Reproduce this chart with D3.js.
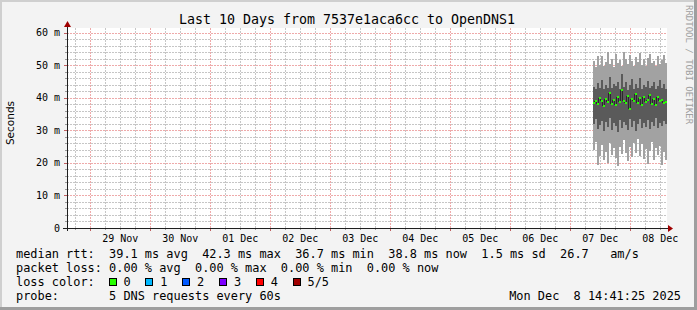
<!DOCTYPE html>
<html>
<head>
<meta charset="utf-8">
<script src="https://cdn.jsdelivr.net/npm/d3@7"></script>
<style>
  body { margin: 0; background: #fff; }
  svg text { white-space: pre; }
</style>
</head>
<body>
<svg id="chart" width="697" height="310"></svg>
<script>
// 1. Data
const title = "Last 10 Days from 7537e1aca6cc to OpenDNS1";
const graphEnd = new Date(2025, 11, 8, 14, 41, 25);
const graphStart = d3.timeDay.offset(graphEnd, -10);

const yTicks = [0, 10, 20, 30, 40, 50, 60];
const yTickLabels = ["0", "10 m", "20 m", "30 m", "40 m", "50 m", "60 m"];
const xLabelDays = ["2025-11-29", "2025-11-30", "2025-12-01", "2025-12-02", "2025-12-03",
  "2025-12-04", "2025-12-05", "2025-12-06", "2025-12-07", "2025-12-08"];
const xTickLabels = ["29 Nov", "30 Nov", "01 Dec", "02 Dec", "03 Dec",
  "04 Dec", "05 Dec", "06 Dec", "07 Dec", "08 Dec"];

// smoke columns (ms), one per 48 min from Dec 7 09:05
const sampleStart = new Date(2025, 11, 7, 9, 5, 0);
const sampleMinutes = 48;
const pingMax = [51.5, 49.5, 53, 50.2, 52.8, 49.8, 51, 54, 50.5, 52, 49.6, 53.5, 50.8, 51.6, 49.9, 54.2, 52.1, 50.3, 53.2,
  51.2, 49.7, 52.6, 50.9, 53.8, 50.1, 51.9, 49.8, 52.4, 53.6, 50.6, 51.4, 49.9, 52.9, 50.4, 51.8, 53.1, 50.7];
const pingHigh = [43.5, 42.8, 44.5, 43, 45.5, 42.6, 44, 43.2, 46.5, 42.9, 44.2, 43.6, 45, 42.7, 47.5, 43.3, 44.8, 42.5, 43.9,
  45.8, 42.8, 44.4, 43.1, 46, 42.6, 44.1, 43.4, 45.2, 42.9, 43.7, 44.9, 42.6, 43.8, 45.4, 43, 44.3, 42.8];
const median = [38.5, 39.2, 38, 40.1, 39, 37.6, 39.8, 38.8, 41.5, 38.2, 39.5, 37.9, 40.3, 38.6, 42.3, 39.1, 38.3, 40.6, 36.7,
  39.7, 38.9, 41.2, 38.4, 39.9, 37.8, 40.4, 38.7, 39.3, 41, 38.1, 39.6, 37.7, 40.2, 38.9, 39.4, 38.5, 38.8];
const pingLow = [32, 33.5, 30.5, 31.8, 33, 29.8, 32.6, 31, 33.8, 30.2, 32.2, 31.4, 29.5, 33.2, 30.8, 32.5, 31.6, 30, 33.6,
  31.2, 32.8, 29.9, 31.9, 33.4, 30.6, 32.4, 31.1, 33.1, 30.4, 32.7, 31.5, 33.7, 30.9, 32.3, 31.3, 33, 32];
const pingMin = [24, 26.5, 19.5, 22, 25.5, 21, 23.5, 20, 26, 22.5, 24.5, 21.5, 19, 25, 22.8, 27, 23, 20.5, 24.8,
  21.8, 26.2, 23.2, 27.5, 22, 25.8, 21.2, 24.2, 19.8, 23.8, 26.5, 20.8, 24.6, 22.4, 25.2, 19.5, 23.5, 21];

const legendLines = [
  "median rtt:  39.1 ms avg  42.3 ms max  36.7 ms min  38.8 ms now  1.5 ms sd  26.7   am/s",
  "packet loss: 0.00 % avg  0.00 % max  0.00 % min  0.00 % now",
];
const lossLabels = ["0", "1", "2", "3", "4", "5/5"];
const lossColors = ["#26ff00", "#00b8ff", "#0059ff", "#7e00ff", "#ff0000", "#a00000"];
const probeText = "probe:       5 DNS requests every 60s";
const stampText = "Mon Dec  8 14:41:25 2025";

// 2. Dimensions
const dms = { width: 697, height: 310, left: 67, right: 667, top: 28, bottom: 228 };
const mono = "'DejaVu Sans Mono', monospace";
const gridMinor = "#c6c6c6";
const gridMajor = "#eeaaaa";

const svg = d3.select("#chart");

// 3. Background and frame
svg.append("rect").attr("width", dms.width).attr("height", dms.height).attr("fill", "#f3f3f3");
svg.append("path").attr("d", `M0,0H${dms.width}V2H2V${dms.height}H0Z`).attr("fill", "#cfcfcf");
svg.append("path")
  .attr("d", `M${dms.width},${dms.height}H0V${dms.height - 3}H${dms.width - 3}V0H${dms.width}Z`)
  .attr("fill", "#9e9e9e");
svg.append("rect")
  .attr("x", dms.left).attr("y", dms.top)
  .attr("width", dms.right - dms.left).attr("height", dms.bottom - dms.top)
  .attr("fill", "#ffffff");

// 4. Scales
const xScale = d3.scaleTime().domain([graphStart, graphEnd]).range([dms.left, dms.right]);
const yScale = d3.scaleLinear().domain([0, 61.5]).range([dms.bottom, dms.top]);
const px = (v) => Math.round(v) + 0.5;

// 5. Grid
const grid = svg.append("g").attr("class", "grid").attr("shape-rendering", "crispEdges");
const minorY = d3.range(2, 61.5, 2).filter((d) => d % 10 !== 0);
const minorX = d3.timeHour.every(6).range(graphStart, graphEnd).filter((d) => d.getHours() !== 0);
const majorX = d3.timeDay.range(graphStart, graphEnd);

function hGrid(cls, data, color) {
  grid.selectAll("." + cls).data(data).enter().append("line")
    .attr("class", cls)
    .attr("x1", dms.left).attr("x2", dms.right)
    .attr("y1", (d) => px(yScale(d))).attr("y2", (d) => px(yScale(d)))
    .attr("stroke", color).attr("stroke-dasharray", "2,1");
}
function vGrid(cls, data, color) {
  grid.selectAll("." + cls).data(data).enter().append("line")
    .attr("class", cls)
    .attr("x1", (d) => px(xScale(d))).attr("x2", (d) => px(xScale(d)))
    .attr("y1", dms.top).attr("y2", dms.bottom)
    .attr("stroke", color).attr("stroke-dasharray", "2,1");
}
hGrid("minor-y", minorY, gridMinor);
vGrid("minor-x", minorX, gridMinor);
hGrid("major-y", yTicks.slice(1), gridMajor);
vGrid("major-x", majorX, gridMajor);

// 6. Smoke
const samples = median.map((m, i) => ({
  t0: d3.timeMinute.offset(sampleStart, i * sampleMinutes),
  t1: d3.timeMinute.offset(sampleStart, (i + 1) * sampleMinutes),
  max: pingMax[i], high: pingHigh[i], median: m, low: pingLow[i], min: pingMin[i],
}));
const smoke = svg.append("g").attr("class", "smoke").attr("shape-rendering", "crispEdges");
smoke.selectAll(".outer").data(samples).enter().append("rect")
  .attr("x", (d) => xScale(d.t0)).attr("width", (d) => xScale(d.t1) - xScale(d.t0))
  .attr("y", (d) => yScale(d.max)).attr("height", (d) => yScale(d.min) - yScale(d.max))
  .attr("fill", "#a2a2a2");
smoke.selectAll(".inner").data(samples).enter().append("rect")
  .attr("x", (d) => xScale(d.t0)).attr("width", (d) => xScale(d.t1) - xScale(d.t0))
  .attr("y", (d) => yScale(d.high)).attr("height", (d) => yScale(d.low) - yScale(d.high))
  .attr("fill", "#5a5a5a");

// median: dark risers, green loss-coloured steps
smoke.selectAll(".riser").data(samples.slice(1)).enter().append("line")
  .attr("x1", (d) => xScale(d.t0)).attr("x2", (d) => xScale(d.t0))
  .attr("y1", (d, i) => yScale(samples[i].median)).attr("y2", (d) => yScale(d.median))
  .attr("stroke", "#2a2a2a").attr("stroke-width", 1);
smoke.selectAll(".median").data(samples).enter().append("line")
  .attr("x1", (d) => xScale(d.t0)).attr("x2", (d) => xScale(d.t1))
  .attr("y1", (d) => yScale(d.median)).attr("y2", (d) => yScale(d.median))
  .attr("stroke", lossColors[0]).attr("stroke-width", 2);

// 7. Axes
const axes = svg.append("g").attr("class", "axes").attr("shape-rendering", "crispEdges");
axes.selectAll(".ytick-minor").data(minorY).enter().append("line")
  .attr("x1", dms.left - 2).attr("x2", dms.left)
  .attr("y1", (d) => px(yScale(d))).attr("y2", (d) => px(yScale(d)))
  .attr("stroke", "#9a9a9a");
axes.selectAll(".ytick-major").data(yTicks).enter().append("line")
  .attr("x1", dms.left - 3).attr("x2", dms.left)
  .attr("y1", (d) => px(yScale(d))).attr("y2", (d) => px(yScale(d)))
  .attr("stroke", "#c06060");
axes.selectAll(".xtick-minor").data(minorX).enter().append("line")
  .attr("x1", (d) => px(xScale(d))).attr("x2", (d) => px(xScale(d)))
  .attr("y1", dms.bottom).attr("y2", dms.bottom + 2)
  .attr("stroke", "#9a9a9a");
axes.selectAll(".xtick-major").data(majorX).enter().append("line")
  .attr("x1", (d) => px(xScale(d))).attr("x2", (d) => px(xScale(d)))
  .attr("y1", dms.bottom).attr("y2", dms.bottom + 3)
  .attr("stroke", "#c06060");

axes.append("line")
  .attr("x1", dms.left - 4).attr("x2", dms.right + 2)
  .attr("y1", dms.bottom + 0.5).attr("y2", dms.bottom + 0.5)
  .attr("stroke", "#1f1f1f");
axes.append("line")
  .attr("x1", dms.left + 0.5).attr("x2", dms.left + 0.5)
  .attr("y1", dms.bottom + 3).attr("y2", dms.top - 4)
  .attr("stroke", "#1f1f1f");
svg.append("path")
  .attr("d", `M${dms.right + 1},${dms.bottom - 3}L${dms.right + 6},${dms.bottom + 0.5}L${dms.right + 1},${dms.bottom + 4}Z`)
  .attr("fill", "#a00000");
svg.append("path")
  .attr("d", `M${dms.left - 3},${dms.top - 1}L${dms.left + 0.5},${dms.top - 7}L${dms.left + 4},${dms.top - 1}Z`)
  .attr("fill", "#a00000");

// 8. Labels
svg.selectAll(".ylabel").data(yTicks).enter().append("text")
  .attr("x", 60).attr("y", (d) => yScale(d) + 3.5)
  .attr("text-anchor", "end")
  .attr("font-family", mono).attr("font-size", 10)
  .text((d, i) => yTickLabels[i]);

svg.selectAll(".xlabel").data(xLabelDays).enter().append("text")
  .attr("x", (d) => xScale(d3.timeHour.offset(d3.timeParse("%Y-%m-%d")(d), 12)))
  .attr("y", 242)
  .attr("text-anchor", "middle")
  .attr("font-family", mono).attr("font-size", 10)
  .text((d, i) => xTickLabels[i]);

svg.append("text")
  .attr("x", 347).attr("y", 24)
  .attr("text-anchor", "middle")
  .attr("font-family", mono).attr("font-size", 13.3)
  .text(title);

svg.append("text")
  .attr("transform", "translate(14,123) rotate(-90)")
  .attr("text-anchor", "middle")
  .attr("font-family", "'DejaVu Sans', sans-serif").attr("font-size", 10.5)
  .text("Seconds");

svg.append("text")
  .attr("transform", "translate(686,5) rotate(90)")
  .attr("font-family", mono).attr("font-size", 9)
  .attr("fill", "#a0a0a0")
  .text("RRDTOOL / TOBI OETIKER");

// 9. Legend
const legendFont = 11.9;
svg.selectAll(".legend-line").data(legendLines).enter().append("text")
  .attr("x", 16).attr("y", (d, i) => 258 + i * 14)
  .attr("font-family", mono).attr("font-size", legendFont)
  .attr("xml:space", "preserve")
  .text((d) => d);

svg.append("text")
  .attr("x", 16).attr("y", 286)
  .attr("font-family", mono).attr("font-size", legendFont)
  .text("loss color:");

const lossItems = svg.selectAll(".loss").data(lossLabels).enter().append("g")
  .attr("transform", (d, i) => `translate(${108.5 + i * 36.8},278)`);
lossItems.append("rect")
  .attr("x", 0.5).attr("y", 0.5).attr("width", 7).attr("height", 7)
  .attr("fill", (d, i) => lossColors[i]).attr("stroke", "#000")
  .attr("shape-rendering", "crispEdges");
lossItems.append("text")
  .attr("x", 15).attr("y", 8)
  .attr("font-family", mono).attr("font-size", legendFont)
  .text((d) => d);

svg.append("text")
  .attr("x", 16).attr("y", 300)
  .attr("font-family", mono).attr("font-size", legendFont)
  .attr("xml:space", "preserve")
  .text(probeText);

svg.append("text")
  .attr("x", 681).attr("y", 300)
  .attr("text-anchor", "end")
  .attr("font-family", mono).attr("font-size", legendFont)
  .attr("xml:space", "preserve")
  .text(stampText);
</script>
</body>
</html>
